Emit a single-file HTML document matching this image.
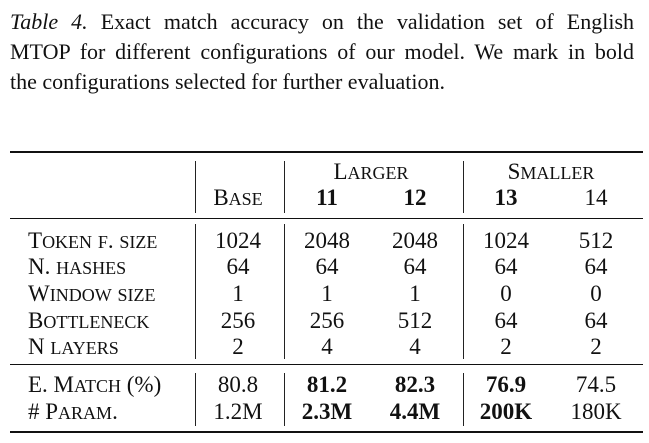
<!DOCTYPE html>
<html><head><meta charset="utf-8"><style>
body{margin:0;width:649px;height:443px;background:#fff;overflow:hidden;position:relative;font-family:"Liberation Serif",serif;color:#111}
.cap{position:absolute;left:10px;width:624px;font-size:22px;line-height:30px;text-align:justify;text-align-last:justify}
.t{position:absolute;font-size:23px;line-height:23px;white-space:nowrap}
.c{transform:translateX(-50%)}
.s{font-size:18px;text-transform:uppercase}
.b{font-weight:bold}
.hr{position:absolute;left:10px;width:633px;background:#111}
.vr{position:absolute;width:1.3px;background:#222}
</style></head><body>
<div class="cap" style="top:7px"><i>Table 4.</i> Exact match accuracy on the validation set of English</div>
<div class="cap" style="top:37px">MTOP for different configurations of our model. We mark in bold</div>
<div class="cap" style="top:67px;text-align-last:left">the configurations selected for further evaluation.</div>

<div class="hr" style="top:151px;height:2px"></div>
<div class="hr" style="top:218px;height:1.3px"></div>
<div class="hr" style="top:364px;height:1.3px"></div>
<div class="hr" style="top:431px;height:2px"></div>

<div class="vr" style="left:195px;top:161px;height:52px"></div>
<div class="vr" style="left:284px;top:161px;height:52px"></div>
<div class="vr" style="left:463px;top:161px;height:52px"></div>
<div class="vr" style="left:195px;top:224px;height:135px"></div>
<div class="vr" style="left:284px;top:224px;height:135px"></div>
<div class="vr" style="left:463px;top:224px;height:135px"></div>
<div class="vr" style="left:195px;top:373px;height:53px"></div>
<div class="vr" style="left:284px;top:373px;height:53px"></div>
<div class="vr" style="left:463px;top:373px;height:53px"></div>

<div id="cells"></div>
<script>
const cols=[238,327,415,506,596];
const rowsTop=[160,186,229,255,282,309,335,373,400];
const data=[
 ["Token f. size",["1024","2048","2048","1024","512"],[0,0,0,0,0]],
 ["N. hashes",["64","64","64","64","64"],[0,0,0,0,0]],
 ["Window size",["1","1","1","0","0"],[0,0,0,0,0]],
 ["Bottleneck",["256","256","512","64","64"],[0,0,0,0,0]],
 ["N layers",["2","4","4","2","2"],[0,0,0,0,0]],
 ["E. Match (%)",["80.8","81.2","82.3","76.9","74.5"],[0,1,1,1,0]],
 ["# Param.",["1.2M","2.3M","4.4M","200K","180K"],[0,1,1,1,0]]
];
const c=document.getElementById('cells');
function sc(txt){
 // manual small caps: uppercase letters full size, lowercase smaller uppercase
 return txt.replace(/[a-z]+/g,m=>'<span class="s">'+m+'</span>');
}
function add(txt,x,y,cls,name,center,small){
 const d=document.createElement('div');
 d.className='t '+cls+(center?' c':'');
 d.style.left=x+'px';d.style.top=y+'px';
 if(small) d.innerHTML=sc(txt); else d.textContent=txt;
 
 
 c.appendChild(d);
}
add("Larger",371,rowsTop[0],'','group-header-larger',true,true);
add("Smaller",551,rowsTop[0],'','group-header-smaller',true,true);
const heads=["Base","11","12","13","14"],hb=["","b","b","b",""];
heads.forEach((h,i)=>add(h,cols[i],rowsTop[1],hb[i],'column-header',true,i===0));
data.forEach((r,ri)=>{
 const y=rowsTop[ri+2];
 add(r[0],28,y,'','row-label',false,true);
 r[1].forEach((v,i)=>add(v,cols[i],y,r[2][i]?'b':'','cell-value',true,false));
});
</script>
</body></html>
